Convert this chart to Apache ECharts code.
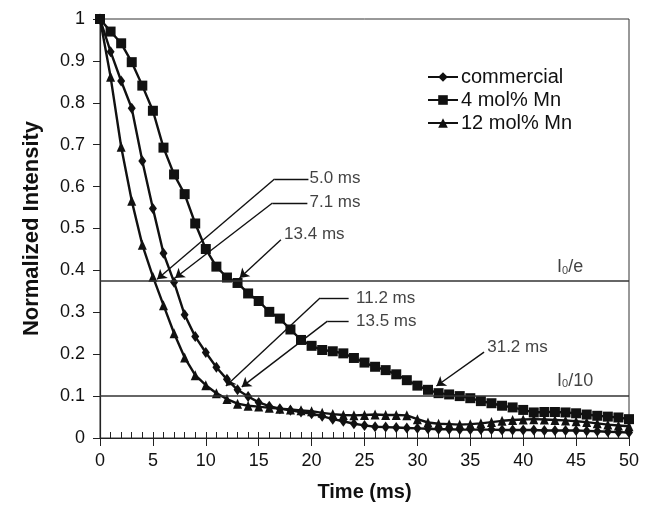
<!DOCTYPE html>
<html>
<head>
<meta charset="utf-8">
<script src="https://cdn.jsdelivr.net/npm/echarts@6/dist/echarts.min.js"></script>
<style>
  html, body { margin: 0; padding: 0; background: #fff; }
  #chart { width: 652px; height: 508px; }
</style>
</head>
<body>
<div id="chart"></div>
<script>
var time = [0, 1, 2, 3, 4, 5, 6, 7, 8, 9, 10, 11, 12, 13, 14, 15, 16, 17, 18, 19, 20,
  21, 22, 23, 24, 25, 26, 27, 28, 29, 30, 31, 32, 33, 34, 35, 36, 37, 38, 39, 40,
  41, 42, 43, 44, 45, 46, 47, 48, 49, 50];

var commercial = [1.0, 0.922, 0.852, 0.787, 0.661, 0.548, 0.441, 0.372, 0.294, 0.242, 0.204,
  0.169, 0.140, 0.115, 0.099, 0.085, 0.076, 0.070, 0.066, 0.062, 0.058,
  0.052, 0.045, 0.040, 0.034, 0.030, 0.027, 0.026, 0.025, 0.024, 0.023,
  0.022, 0.021, 0.021, 0.020, 0.020, 0.020, 0.020, 0.019, 0.019, 0.019,
  0.019, 0.018, 0.018, 0.018, 0.018, 0.017, 0.016, 0.015, 0.014, 0.013];

var mn4 = [1.0, 0.970, 0.942, 0.897, 0.841, 0.781, 0.693, 0.629, 0.582, 0.512, 0.451,
  0.409, 0.383, 0.370, 0.345, 0.327, 0.301, 0.285, 0.259, 0.234, 0.220,
  0.210, 0.207, 0.202, 0.191, 0.180, 0.170, 0.162, 0.152, 0.138, 0.125,
  0.115, 0.107, 0.104, 0.100, 0.095, 0.088, 0.083, 0.077, 0.073, 0.067,
  0.061, 0.062, 0.062, 0.061, 0.059, 0.056, 0.053, 0.051, 0.049, 0.045];

var mn12 = [1.0, 0.862, 0.695, 0.566, 0.461, 0.385, 0.317, 0.250, 0.192, 0.150, 0.126,
  0.107, 0.093, 0.082, 0.077, 0.075, 0.072, 0.070, 0.068, 0.066, 0.064,
  0.060, 0.057, 0.055, 0.054, 0.055, 0.056, 0.055, 0.055, 0.054, 0.045,
  0.037, 0.034, 0.033, 0.032, 0.033, 0.035, 0.038, 0.041, 0.043, 0.044,
  0.045, 0.044, 0.043, 0.042, 0.040, 0.038, 0.035, 0.032, 0.030, 0.028];

var seriesNames = ['commercial', '4 mol% Mn', '12 mol% Mn'];

// reference levels: I0/e and I0/10
var levelValues = [0.375, 0.1];
var levelLabels = ['{a|I}{s|0}{a|/e}', '{a|I}{s|0}{a|/10}'];
var levelLabelPos = [[43.2, 0.408], [43.2, 0.137]];

// annotations: text, text position, elbow corner (or null), line start, arrow tip
var noteTexts = ['5.0 ms', '7.1 ms', '13.4 ms', '11.2 ms', '13.5 ms', '31.2 ms'];
var notePos = [[19.8, 0.620], [19.8, 0.563], [17.4, 0.485], [24.2, 0.334], [24.2, 0.279], [36.6, 0.217]];
var noteElbow = [[19.7, 0.618], [19.6, 0.561], null, [23.5, 0.334], [23.5, 0.279], null];
var noteStart = [[16.5, 0.618], [16.3, 0.561], [17.1, 0.473], [20.8, 0.334], [21.5, 0.279], [36.3, 0.205]];
var noteTip = [[5.4, 0.379], [7.1, 0.382], [13.2, 0.382], [11.9, 0.124], [13.4, 0.122], [31.8, 0.124]];

function pairs(vals) {
  return time.map(function (t, i) { return [t, vals[i]]; });
}

var leaderLines = [];
noteTexts.forEach(function (t, i) {
  if (noteElbow[i]) {
    leaderLines.push([{ coord: noteElbow[i], symbol: 'none' }, { coord: noteStart[i], symbol: 'none' }]);
  }
  leaderLines.push([{ coord: noteStart[i], symbol: 'none' }, { coord: noteTip[i], symbol: 'arrow' }]);
});

var levelLines = levelValues.map(function (v) {
  return [{ coord: [0, v], symbol: 'none' }, { coord: [50, v], symbol: 'none' }];
});

var font = 'Liberation Sans, Arial, sans-serif';
var chart = echarts.init(document.getElementById('chart'));
chart.setOption({
  animation: false,
  backgroundColor: '#fff',
  textStyle: { fontFamily: font },
  grid: {
    left: 100, right: 23, top: 19, bottom: 70,
    show: true, borderColor: '#333', borderWidth: 1
  },
  legend: {
    data: seriesNames,
    orient: 'vertical',
    left: 422, top: 62,
    itemWidth: 30, itemHeight: 12, itemGap: 3,
    textStyle: { fontSize: 20, color: '#111', fontFamily: font, padding: [0, 0, 0, -2] }
  },
  xAxis: [{
    type: 'value',
    min: 0, max: 50, interval: 5,
    axisLine: { lineStyle: { color: '#222', width: 1.2 } },
    axisTick: { show: true, inside: false, length: 8, lineStyle: { color: '#222' } },
    axisLabel: { fontSize: 18, color: '#111', margin: 14 },
    splitLine: { show: false },
    name: 'Time (ms)', nameLocation: 'middle', nameGap: 44,
    nameTextStyle: { fontSize: 20, fontWeight: 'bold', color: '#111' }
  }, {
    type: 'value',
    position: 'bottom',
    min: 0, max: 50, interval: 1,
    axisLine: { show: false },
    axisTick: { show: true, inside: true, length: 6, lineStyle: { color: '#222' } },
    axisLabel: { show: false },
    splitLine: { show: false }
  }],
  yAxis: {
    type: 'value',
    min: 0, max: 1, interval: 0.1,
    axisLine: { show: true, lineStyle: { color: '#222', width: 1.2 } },
    axisTick: { show: true, inside: false, length: 7, lineStyle: { color: '#222' } },
    axisLabel: { fontSize: 18, color: '#111', margin: 15 },
    splitLine: { show: false },
    name: 'Normalized Intensity', nameLocation: 'middle', nameGap: 57,
    nameTextStyle: { fontSize: 22, fontWeight: 'bold', color: '#111' }
  },
  series: [{
    name: 'commercial',
    type: 'line',
    data: pairs(commercial),
    symbol: 'diamond', symbolSize: [8, 11],
    lineStyle: { color: '#111', width: 2.4 },
    itemStyle: { color: '#111' },
    z: 4
  }, {
    name: '4 mol% Mn',
    type: 'line',
    data: pairs(mn4),
    symbol: 'rect', symbolSize: 10,
    lineStyle: { color: '#111', width: 2.4 },
    itemStyle: { color: '#111' },
    z: 4
  }, {
    name: '12 mol% Mn',
    type: 'line',
    data: pairs(mn12),
    symbol: 'triangle', symbolSize: [9, 10],
    lineStyle: { color: '#111', width: 2.4 },
    itemStyle: { color: '#111' },
    z: 4
  }, {
    name: 'levels',
    type: 'scatter',
    data: levelLabelPos.map(function (p, i) { return [p[0], p[1], levelLabels[i]]; }),
    symbolSize: 0,
    label: {
      show: true, position: 'right', distance: 0,
      formatter: function (p) { return p.data[2]; },
      rich: {
        a: { fontSize: 18, color: '#111', fontFamily: font },
        s: { fontSize: 11, color: '#111', fontFamily: font, verticalAlign: 'bottom', padding: [6, 0, 0, 0] }
      }
    },
    markLine: {
      silent: true,
      label: { show: false },
      lineStyle: { color: '#333', width: 1.6, type: 'solid' },
      data: levelLines
    },
    z: 2
  }, {
    name: 'notes',
    type: 'scatter',
    data: notePos.map(function (p, i) { return [p[0], p[1], noteTexts[i]]; }),
    symbolSize: 0,
    label: {
      show: true, position: 'right', distance: 0,
      fontSize: 17, color: '#111',
      formatter: function (p) { return p.data[2]; }
    },
    markLine: {
      silent: true,
      symbolSize: 9,
      label: { show: false },
      lineStyle: { color: '#111', width: 1.4, type: 'solid' },
      data: leaderLines
    },
    z: 3
  }]
});
</script>
</body>
</html>
